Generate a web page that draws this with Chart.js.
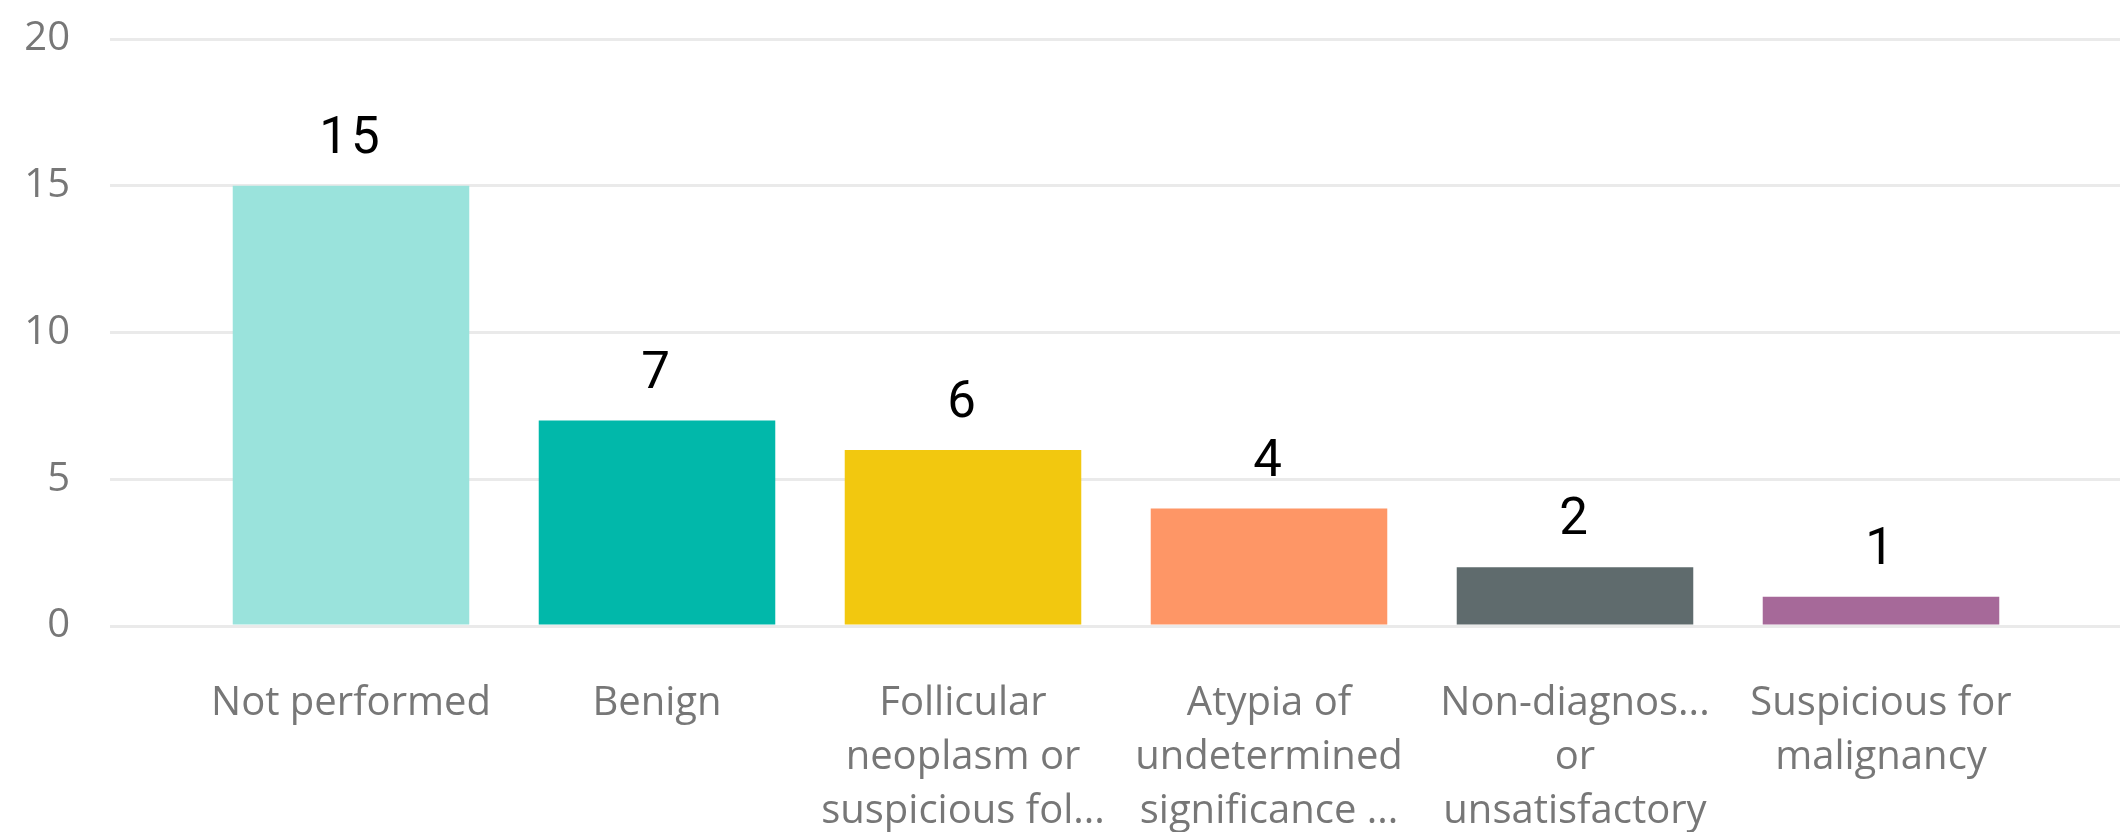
<!DOCTYPE html>
<html>
<head>
<meta charset="utf-8">
<script src="https://cdn.jsdelivr.net/npm/chart.js@4/dist/chart.umd.min.js"></script>
<style>
  html, body { margin: 0; padding: 0; background: #fff; }
  #wrap { width: 2120px; height: 832px; }
</style>
</head>
<body>
<div id="wrap"><canvas id="chart" width="2120" height="832"></canvas></div>
<script>
  // ── Data ──
  var categories = [
    ['Not performed'],
    ['Benign'],
    ['Follicular', 'neoplasm or', 'suspicious fol...'],
    ['Atypia of', 'undetermined', 'significance ...'],
    ['Non-diagnos...', 'or', 'unsatisfactory'],
    ['Suspicious for', 'malignancy']
  ];
  var counts = [15, 7, 6, 4, 2, 1];
  var barColors = ['#9AE3DC', '#01B8AA', '#F2C80F', '#FE9666', '#5F6B6D', '#A66999'];
  var yTicks = [0, 5, 10, 15, 20];

  var gridColor = '#EAEAEA';
  var axisText = '#777777';
  var labelFont = "'Segoe UI', 'Open Sans', 'Noto Sans', sans-serif";

  // value labels above each bar, positioned from the bar elements
  var valueLabels = {
    id: 'valueLabels',
    afterDatasetsDraw: function (chart) {
      var ctx = chart.ctx;
      var meta = chart.getDatasetMeta(0);
      ctx.save();
      ctx.fillStyle = '#000';
      ctx.font = "400 51px 'Roboto', sans-serif";
      ctx.letterSpacing = '3px';
      ctx.textAlign = 'center';
      ctx.textBaseline = 'alphabetic';
      meta.data.forEach(function (bar, i) {
        ctx.fillText(String(counts[i]), bar.x, bar.y - 33);
      });
      ctx.restore();
    }
  };

  var ctx = document.getElementById('chart').getContext('2d');
  new Chart(ctx, {
    type: 'bar',
    data: {
      labels: categories,
      datasets: [{
        data: counts,
        backgroundColor: barColors,
        borderWidth: 0,
        barPercentage: 0.773,
        categoryPercentage: 1
      }]
    },
    options: {
      responsive: false,
      animation: false,
      layout: { padding: { top: 39, left: 0, right: 0, bottom: 0 } },
      plugins: {
        legend: { display: false },
        tooltip: { enabled: false }
      },
      scales: {
        x: {
          offset: true,
          grid: { display: false },
          border: { display: false },
          ticks: {
            color: axisText,
            padding: 43,
            maxRotation: 0,
            autoSkip: false,
            font: { family: labelFont, size: 40, lineHeight: 1.35 }
          },
          afterFit: function (scale) { scale.height = 206; }
        },
        y: {
          min: 0,
          max: 20,
          afterBuildTicks: function (scale) {
            scale.ticks = yTicks.map(function (v) { return { value: v }; });
          },
          grid: { color: gridColor, lineWidth: 3, tickLength: 88 },
          border: { display: false },
          ticks: {
            color: axisText,
            padding: 40,
            font: { family: labelFont, size: 40 }
          },
          afterFit: function (scale) {
            scale.width = 198;
            scale.paddingTop = 0;
            scale.paddingBottom = 0;
          }
        },
        yRight: {
          position: 'right',
          min: 0,
          max: 20,
          afterBuildTicks: function (scale) {
            scale.ticks = yTicks.map(function (v) { return { value: v }; });
          },
          grid: { color: gridColor, lineWidth: 3, tickLength: 86, drawOnChartArea: false },
          border: { display: false },
          ticks: { display: false },
          afterFit: function (scale) {
            scale.width = 86;
            scale.paddingTop = 0;
            scale.paddingBottom = 0;
          }
        }
      }
    },
    plugins: [valueLabels]
  });
</script>
</body>
</html>
